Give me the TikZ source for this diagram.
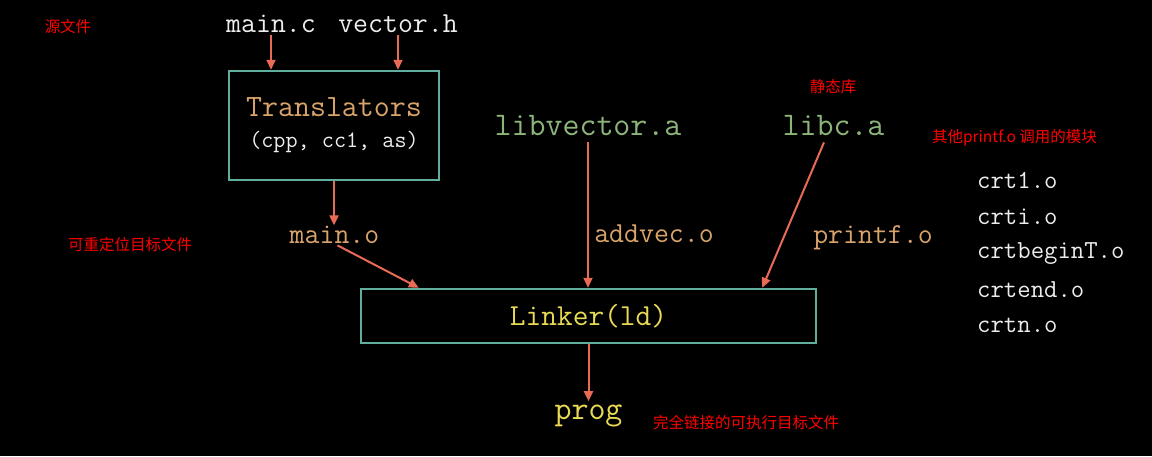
\documentclass[tikz,border=0pt]{standalone}
\usepackage{fontspec}
\newfontfamily\cjk{Noto Sans CJK SC}
\usetikzlibrary{arrows.meta}
\definecolor{arrcol}{HTML}{E96A55}
\definecolor{boxcol}{HTML}{5FAE9E}
\definecolor{orng}{HTML}{D9A46A}
\definecolor{grn}{HTML}{8DB57A}
\definecolor{yel}{HTML}{E8DA55}
\definecolor{wht}{HTML}{EDEDED}
\newcommand\fsz[1]{\fontsize{#1}{#1}\selectfont}
\begin{document}
\begin{tikzpicture}[x=1pt,y=-1pt,
  mono/.style={inner sep=0pt, anchor=base},
  arr/.style={draw=arrcol, line width=2pt, -{Triangle[length=10pt,width=9pt]}},
  box/.style={draw=boxcol, line width=2.5pt, inner sep=0pt},
  note/.style={text=red, font=\cjk\fsz{15.5}, inner sep=0pt}]
\fill[black] (0,0) rectangle (1152,456);
\useasboundingbox (0,0) rectangle (1152,456);

% source files
\node[mono, text=wht, font=\ttfamily\fsz{29}] (mainc) at (271,32) {main.c};
\node[mono, text=wht, font=\ttfamily\fsz{29}] (vech) at (398,32) {vector.h};

% translators box
\node[box, minimum width=210pt, minimum height=109pt, align=center, text=orng,
      font=\ttfamily\fsz{31}] (trans) at (334,125.5)
      {Translators\\{\color{wht}\fsz{23.5}(cpp, cc1, as)}};

\draw[arr] ([yshift=-3pt]mainc.south) -- (mainc.south |- trans.north);
\draw[arr] ([yshift=-3pt]vech.south) -- (vech.south |- trans.north);

% main.o
\node[mono, text=orng, font=\ttfamily\fsz{29}] (maino) at (334.5,243) {main.o};
\draw[arr] (trans.south) -- (trans.south |- maino.north);

% linker
\node[box, minimum width=455pt, minimum height=54pt, text=yel,
      font=\ttfamily\fsz{30.5}] (linker) at (588.5,316) {Linker(ld)};
\draw[arr] ([shift={(3,2)}]maino.south) -- ([xshift=59pt]linker.north west);

% libraries
\node[mono, text=grn, font=\ttfamily\fsz{33}] (libvec) at (588,135) {libvector.a};
\node[mono, text=grn, font=\ttfamily\fsz{33}] (libc) at (833.5,135) {libc.a};
\draw[arr] ([yshift=-7pt]libvec.south) -- (libvec.south |- linker.north);
\draw[arr] ([shift={(-9.5,7)}]libc.south) -- ([xshift=-55pt]linker.north east);

\node[mono, text=orng, font=\ttfamily\fsz{29}] (addvec) at (654,242) {addvec.o};
\node[mono, text=orng, font=\ttfamily\fsz{29}] (printf) at (873,243) {printf.o};

% prog
\node[mono, text=yel, font=\ttfamily\fsz{33}] (prog) at (588.5,419) {prog};
\draw[arr] (linker.south) -- ([yshift=3pt]linker.south |- prog.north);

% crt modules
\node[mono, anchor=base west, text=wht, font=\ttfamily\fsz{26}] (crt1) at (977,188) {crt1.o};
\node[mono, anchor=base west, text=wht, font=\ttfamily\fsz{26}] (crti) at (977,224) {crti.o};
\node[mono, anchor=base west, text=wht, font=\ttfamily\fsz{26}] (crtb) at (977,258) {crtbeginT.o};
\node[mono, anchor=base west, text=wht, font=\ttfamily\fsz{26}] (crte) at (977,297) {crtend.o};
\node[mono, anchor=base west, text=wht, font=\ttfamily\fsz{26}] (crtn) at (977,332) {crtn.o};

% notes
\node[note] (n1) at (68,27) {源文件};
\node[note] (n2) at (833,87) {静态库};
\node[note] (n3) at (1014.5,138) {其他printf.o 调用的模块};
\node[note] (n4) at (130,245) {可重定位目标文件};
\node[note] (n5) at (746,423) {完全链接的可执行目标文件};
\end{tikzpicture}
\end{document}
